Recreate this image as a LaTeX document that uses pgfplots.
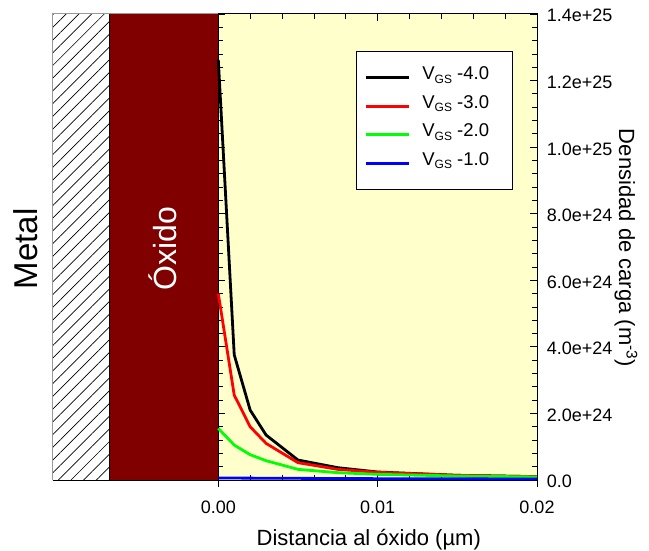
\documentclass[border=0pt]{standalone}
\usepackage{fontspec}
\setmainfont{Liberation Sans}
\usepackage{pgfplots}
\pgfplotsset{compat=1.18}
\usetikzlibrary{patterns.meta}
\definecolor{bgyellow}{RGB}{255,255,204}
\definecolor{oxide}{RGB}{128,0,0}
\definecolor{vgreen}{RGB}{0,255,0}
\definecolor{vblue}{RGB}{0,0,255}
\definecolor{vred}{RGB}{255,0,0}
\newcommand{\vgs}{V\raisebox{-0.35ex}{\fontsize{12bp}{12bp}\selectfont GS}}
\begin{document}
\begin{tikzpicture}
\useasboundingbox (-218.3bp,-71bp) rectangle (430.7bp,480bp);
\begin{axis}[
  scale only axis, width=318.7bp, height=466bp,
  xmin=0, xmax=0.02, ymin=0, ymax=1.4e25,
  clip=false,
  scaled ticks=false,
  axis background/.style={fill=bgyellow},
  axis line style={line width=1bp},
  xtick={0,0.01,0.02}, xticklabels={0.00,0.01,0.02},
  minor x tick num=4,
  ytick={0,2e24,4e24,6e24,8e24,1e25,1.2e25,1.4e25},
  yticklabels={0.0,2.0e+24,4.0e+24,6.0e+24,8.0e+24,1.0e+25,1.2e+25,1.4e+25},
  minor y tick num=4,
  yticklabel pos=right,
  tick align=inside,
  major tick length=7bp, minor tick length=5bp,
  tick style={black, line width=0.8bp},
  ticklabel style={font=\fontsize{18bp}{21bp}\selectfont},
  xticklabel style={anchor=base, yshift=-33bp},
  yticklabel style={anchor=west, inner sep=0pt, xshift=9.7bp, yshift=-1.8bp},
  xlabel={Distancia al óxido (µm)},
  ylabel={Densidad de carga (m\textsuperscript{-3})},
  every axis x label/.style={at={(axis description cs:0.4722,-0.1395)}, anchor=base, font=\fontsize{22bp}{26bp}\selectfont},
  every axis y label/.style={at={(axis description cs:1.2573,0.4979)}, rotate=-90, anchor=base, font=\fontsize{22bp}{26bp}\selectfont},
  legend style={at={(rel axis cs:0.432,0.92)}, anchor=north west, draw=black, line width=0.8bp, fill=white,
    font=\fontsize{18.5bp}{21bp}\selectfont, inner xsep=8bp, inner ysep=12bp, row sep=0.5pt, column sep=9bp,
    nodes={text height=13bp, text depth=9bp, inner sep=3bp}},
  legend cell align=left,
  legend image code/.code={\draw[#1, line width=3bp] (0bp,0bp) -- (43bp,0bp);},
]
\fill[oxide] (axis cs:-0.006797,0) rectangle (axis cs:0,1.4e25);
\fill[pattern={Lines[angle=45,distance=9bp,line width=0.7bp]}, pattern color=black] (axis cs:-0.010393,0) rectangle (axis cs:-0.006797,1.4e25);
\draw[gray!80, line width=1bp] (axis cs:-0.010393,0) -- (axis cs:-0.010393,1.4e25) -- (axis cs:0,1.4e25);
\draw[black, line width=1bp] (axis cs:-0.006797,0) -- (axis cs:-0.006797,1.4e25);
\draw[black, line width=1bp] (axis cs:-0.010393,0) -- (axis cs:0,0);
\draw[black, line width=0.8bp] (axis cs:0,0) -- ++(0,-7bp);
\draw[black, line width=0.8bp] (axis cs:0.01,0) -- ++(0,-7bp);
\draw[black, line width=0.8bp] (axis cs:0.02,0) -- ++(0,-7bp);

\addplot[black, line width=2.8bp] coordinates {
(0,1.262e25) (0.001,3.76e24) (0.002,2.1e24) (0.003,1.35e24) (0.005,6.0e23) (0.0075,3.7e23) (0.01,2.4e23) (0.015,1.4e23) (0.02,1.0e23)};
\addlegendentry{\vgs{} -4.0\hspace*{12bp}}
\addplot[vred, line width=2.8bp] coordinates {
(0,5.6e24) (0.001,2.55e24) (0.002,1.6e24) (0.003,1.1e24) (0.005,5.2e23) (0.0075,3.2e23) (0.01,2.3e23) (0.015,1.4e23) (0.02,1.0e23)};
\addlegendentry{\vgs{} -3.0\hspace*{12bp}}
\addplot[vgreen, line width=2.8bp] coordinates {
(0,1.55e24) (0.001,1.05e24) (0.002,7.6e23) (0.003,5.8e23) (0.005,3.2e23) (0.0075,2.2e23) (0.01,1.7e23) (0.015,1.2e23) (0.02,0.9e23)};
\addlegendentry{\vgs{} -2.0\hspace*{12bp}}
\addplot[vblue, line width=2.8bp] coordinates {
(0,6e22) (0.005,5e22) (0.01,4e22) (0.015,3.5e22) (0.02,3e22)};
\addlegendentry{\vgs{} -1.0\hspace*{12bp}}
\end{axis}
\node[rotate=90, anchor=base, font=\fontsize{33bp}{36bp}\selectfont] at (-180.3bp,231bp) {Metal};
\node[rotate=90, anchor=base, text=white, font=\fontsize{32bp}{36bp}\selectfont] at (-41.3bp,231.5bp) {Óxido};
\end{tikzpicture}
\end{document}
